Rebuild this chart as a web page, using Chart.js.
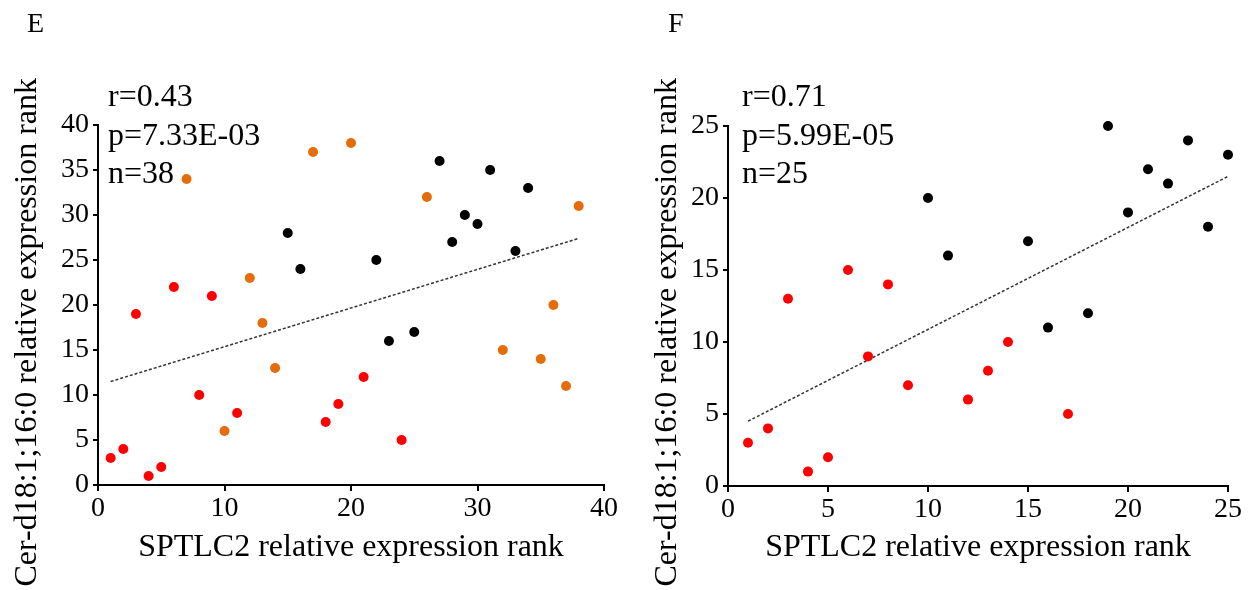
<!DOCTYPE html>
<html>
<head>
<meta charset="utf-8">
<script src="https://cdn.jsdelivr.net/npm/chart.js@4/dist/chart.umd.min.js"></script>
<style>
  body { margin: 0; background: #fff; }
  .panel { position: absolute; top: 0; width: 625px; height: 590px; }
</style>
</head>
<body>
<div class="panel" style="left:0"><canvas id="chartE"></canvas></div>
<div class="panel" style="left:625px"><canvas id="chartF"></canvas></div>
<script>
// panel E: [rank SPTLC2, rank Cer]
const eRed = [[1,3],[2,4],[3,19],[4,1],[5,2],[6,22],[8,10],[9,21],[11,8],[18,7],[19,9],[21,12],[24,5]]
const eOrange = [[7,34],[10,6],[12,23],[13,18],[14,13],[17,37],[20,38],[26,32],[32,15],[35,14],[36,20],[37,11],[38,31]]
const eBlack = [[15,28],[16,24],[22,25],[23,16],[25,17],[27,36],[28,27],[29,30],[30,29],[31,35],[33,26],[34,33]]
const eTrend = [[1,11.5],[38,27.4]]
const eStats = ["r=0.43", "p=7.33E-03", "n=38"]

// panel F
const fRed = [[1,3],[2,4],[3,13],[4,1],[5,2],[6,15],[7,9],[8,14],[9,7],[12,6],[13,8],[14,10],[17,5]]
const fBlack = [[10,20],[11,16],[15,17],[16,11],[18,12],[19,25],[20,19],[21,22],[22,21],[23,24],[24,18],[25,23]]
const fTrend = [[1,4.5],[25,21.5]]
const fStats = ["r=0.71", "p=5.99E-05", "n=25"]

const xTitle = "SPTLC2 relative expression rank"
const yTitle = "Cer-d18:1;16:0 relative expression rank"

const SERIF = "'Liberation Serif', 'Times New Roman', serif"
Chart.defaults.font.family = SERIF
Chart.defaults.color = "#000"

const toPts = (arr) => arr.map(([x, y]) => ({ x, y }))

// panel letter, r/p/n block and the y axis title
const textPlugin = {
  id: "panelText",
  afterDraw(chart, args, opts) {
    const ctx = chart.ctx
    ctx.save()
    ctx.fillStyle = "#000"
    ctx.textBaseline = "alphabetic"
    ctx.font = "28px " + SERIF
    ctx.fillText(opts.letter, opts.letterX, 32)
    ctx.font = "32px " + SERIF
    opts.lines.forEach((t, i) => ctx.fillText(t, opts.textX, 106 + i * 38.5))

    ctx.translate(opts.yTitleX, 78)
    ctx.rotate(-Math.PI / 2)
    ctx.textAlign = "right"
    ctx.textBaseline = "middle"
    ctx.font = "32px " + SERIF
    ctx.fillText(yTitle, 0, 0)
    ctx.restore()
  }
}

function dots(data, color) {
  return {
    type: "scatter",
    data: toPts(data),
    backgroundColor: color,
    borderWidth: 0,
    pointRadius: 5,
    pointHoverRadius: 5,
    clip: false
  }
}

function makeChart(id, groups, trend, max, box, text) {
  return new Chart(document.getElementById(id), {
    data: {
      datasets: [
        ...groups.map(([d, c]) => dots(d, c)),
        {
          type: "line",
          data: toPts(trend),
          borderColor: "#333",
          borderWidth: 1.5,
          borderDash: [3, 2],
          pointRadius: 0,
          fill: false
        }
      ]
    },
    options: {
      responsive: true,
      maintainAspectRatio: false,
      animation: false,
      layout: { padding: { top: box.top, right: box.right, left: 0, bottom: 0 } },
      scales: {
        x: {
          type: "linear",
          min: 0,
          max: max,
          ticks: { stepSize: max === 40 ? 10 : 5, font: { size: 28 }, padding: 1 },
          grid: { drawOnChartArea: false, color: "#000", lineWidth: 2, tickLength: 6 },
          border: { color: "#000", width: 2 },
          title: { display: true, text: xTitle, font: { size: 32 }, padding: 23 },
          afterFit: (s) => { s.height = box.bottom }
        },
        y: {
          min: 0,
          max: max,
          ticks: { stepSize: 5, font: { size: 28 }, padding: 4 },
          grid: { drawOnChartArea: false, color: "#000", lineWidth: 2, tickLength: 5 },
          border: { color: "#000", width: 2 },
          afterFit: (s) => { s.width = box.left }
        }
      },
      plugins: {
        legend: { display: false },
        tooltip: { enabled: false },
        panelText: text
      }
    },
    plugins: [textPlugin]
  })
}

makeChart("chartE", [[eRed, "#ff0000"], [eOrange, "#e46c0a"], [eBlack, "#000"]], eTrend, 40,
  { top: 125, right: 21, left: 98, bottom: 105 },
  { letter: "E", letterX: 27, textX: 108, yTitleX: 28, lines: eStats })

makeChart("chartF", [[fRed, "#ff0000"], [fBlack, "#000"]], fTrend, 25,
  { top: 126, right: 22, left: 103, bottom: 104 },
  { letter: "F", letterX: 43, textX: 117, yTitleX: 43, lines: fStats })
</script>
</body>
</html>
